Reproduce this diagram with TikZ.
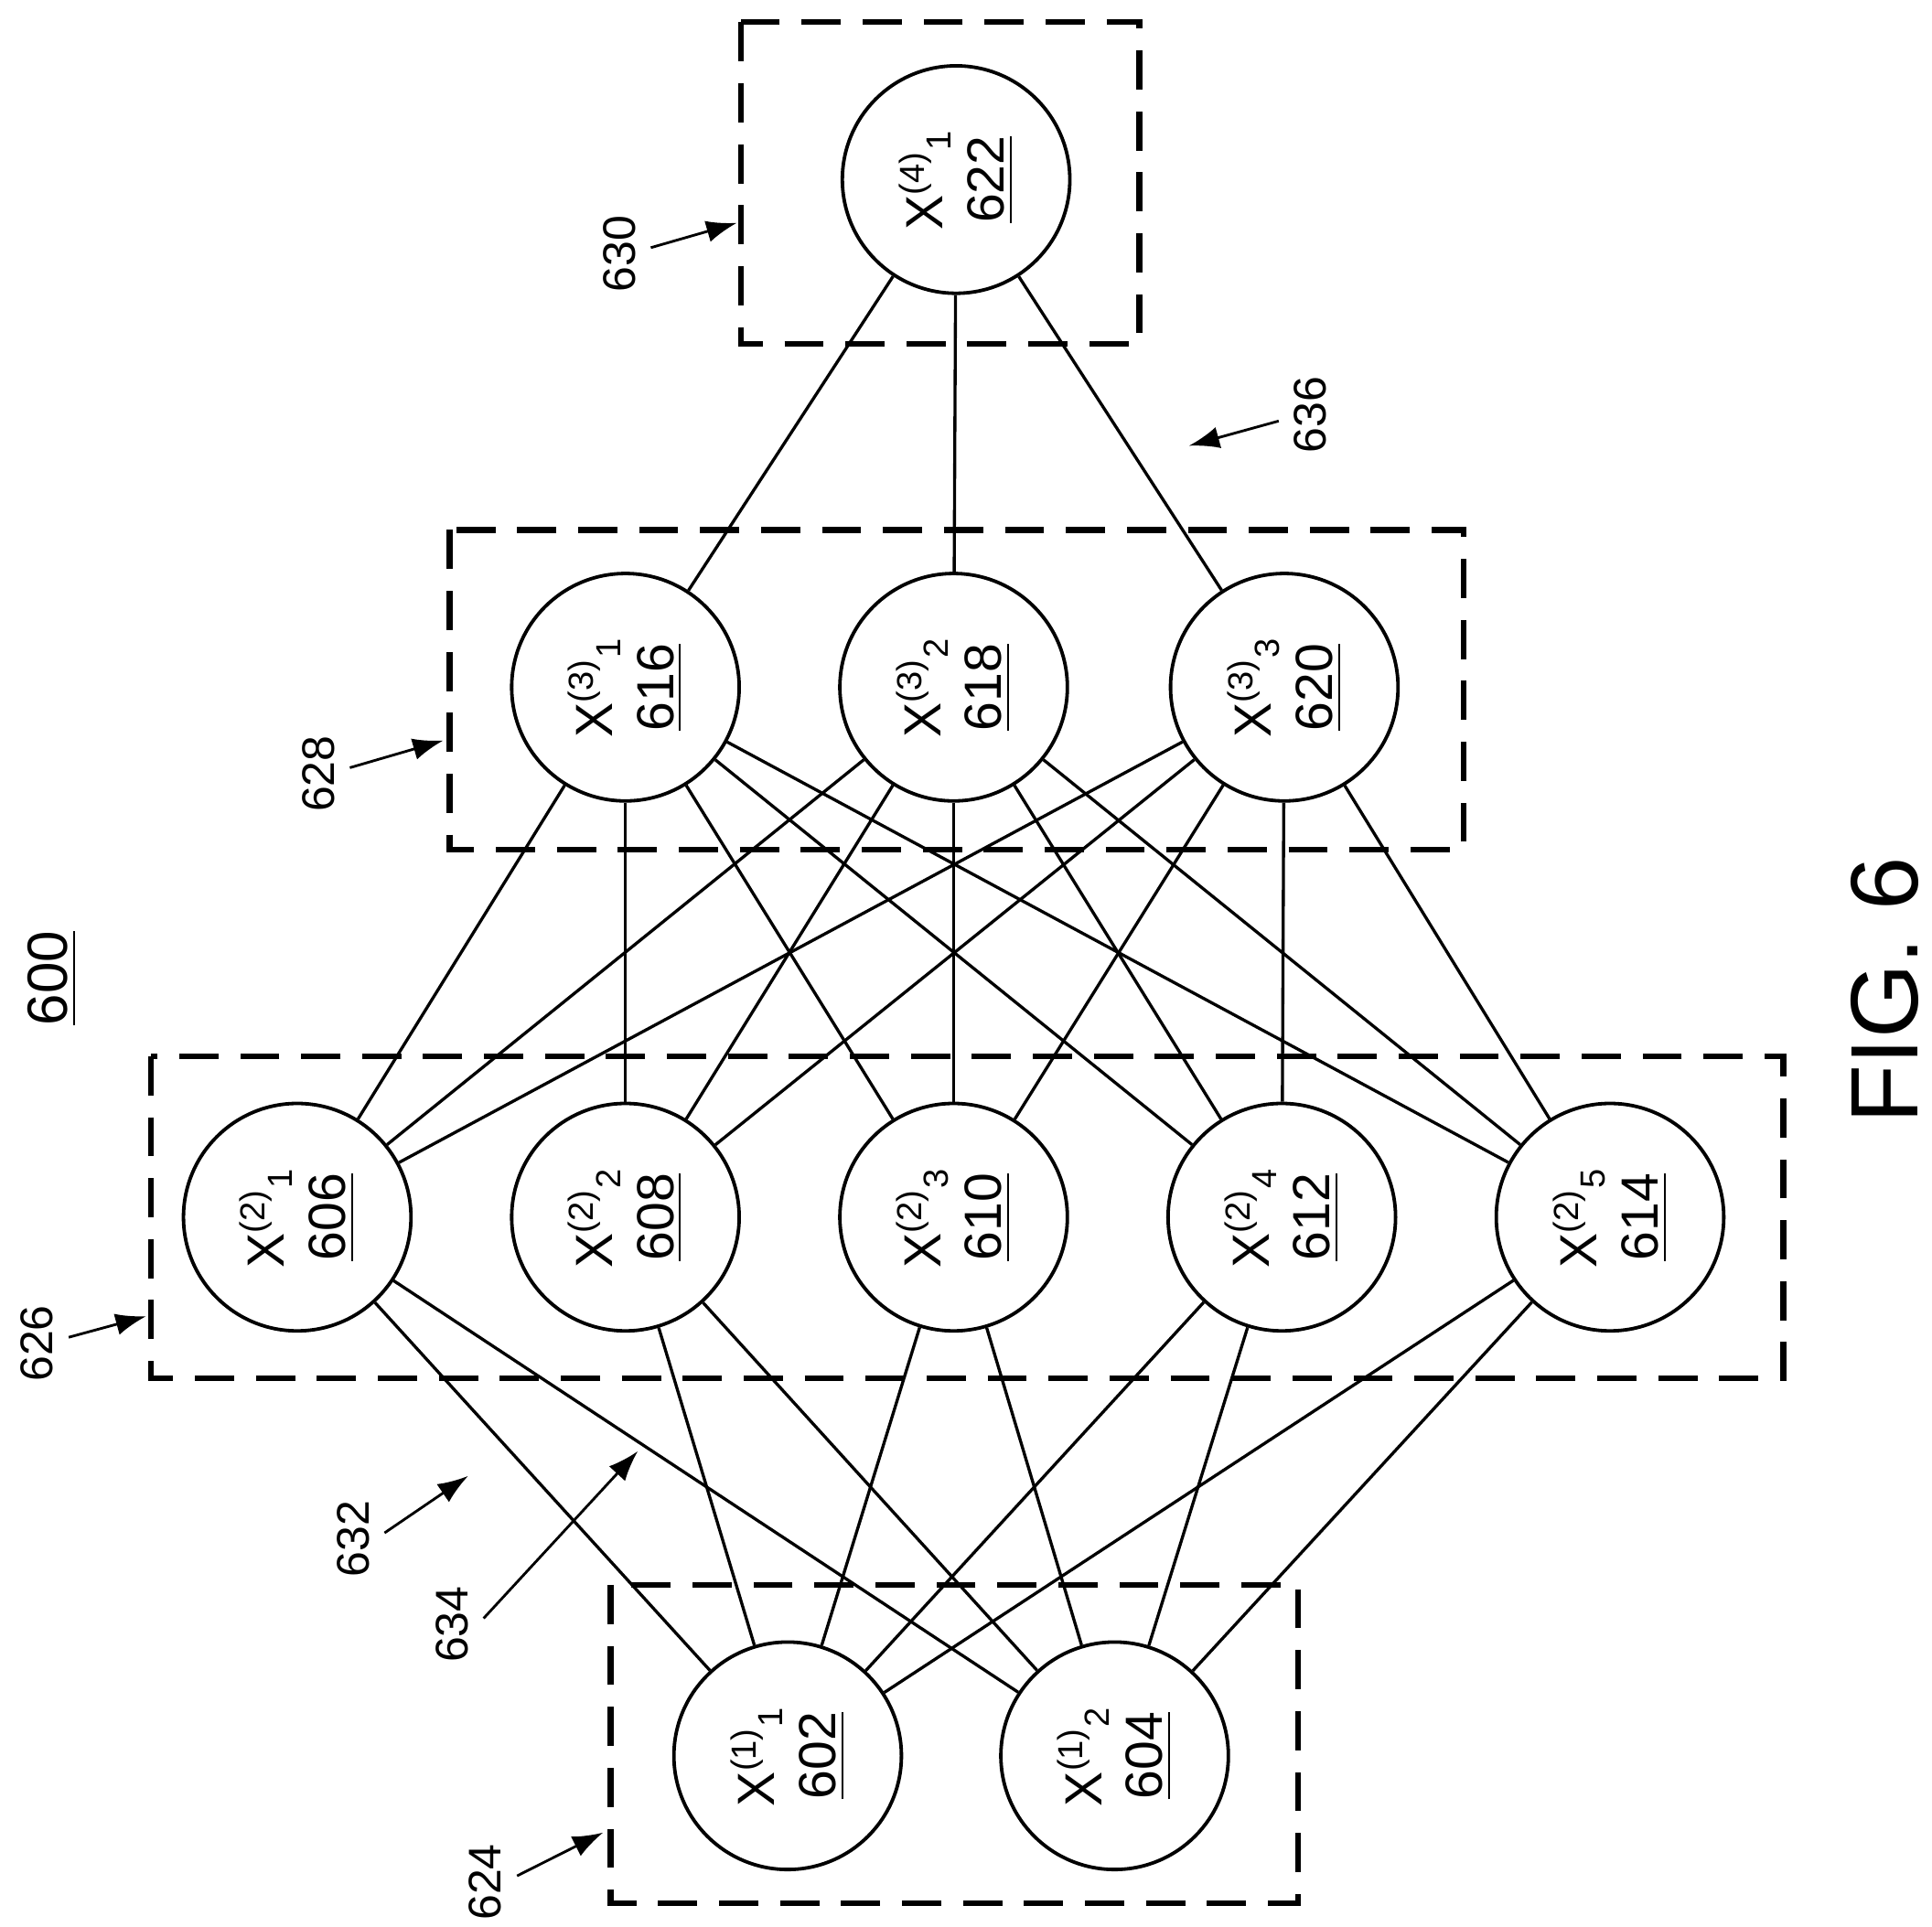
\documentclass[tikz,border=0pt]{standalone}
\usepackage{fontspec}
\setmainfont{Liberation Sans}
\usetikzlibrary{arrows.meta}
\tikzset{
  neuron/.style={draw,circle,line width=0.8pt,minimum size=5.1cm*0.36,inner sep=0pt,rotate=90,align=center,font=\fontsize{12}{14}\selectfont},
  layerbox/.style={draw,line width=1.3pt,dash pattern=on 9pt off 5pt},
  callout/.style={-{Latex[length=7pt,width=5pt]},line width=0.6pt},
  reftext/.style={rotate=90,font=\fontsize{10.5}{12}\selectfont}
}
\begin{document}
\begin{tikzpicture}[x=0.01cm,y=-0.01cm]
\useasboundingbox (0,0) rectangle (1560,1556);

% neurons
\node[neuron] (n602) at (636,1418) {X\textsuperscript{(1)}\textsubscript{1}\\\underline{602}};
\node[neuron] (n604) at (900,1418) {X\textsuperscript{(1)}\textsubscript{2}\\\underline{604}};
\node[neuron] (n606) at (240,983) {X\textsuperscript{(2)}\textsubscript{1}\\\underline{606}};
\node[neuron] (n608) at (505,983) {X\textsuperscript{(2)}\textsubscript{2}\\\underline{608}};
\node[neuron] (n610) at (770,983) {X\textsuperscript{(2)}\textsubscript{3}\\\underline{610}};
\node[neuron] (n612) at (1035,983) {X\textsuperscript{(2)}\textsubscript{4}\\\underline{612}};
\node[neuron] (n614) at (1300,983) {X\textsuperscript{(2)}\textsubscript{5}\\\underline{614}};
\node[neuron] (n616) at (505,555) {X\textsuperscript{(3)}\textsubscript{1}\\\underline{616}};
\node[neuron] (n618) at (770,555) {X\textsuperscript{(3)}\textsubscript{2}\\\underline{618}};
\node[neuron] (n620) at (1037,555) {X\textsuperscript{(3)}\textsubscript{3}\\\underline{620}};
\node[neuron] (n622) at (772,145) {X\textsuperscript{(4)}\textsubscript{1}\\\underline{622}};

% connections
\foreach \a in {602,604}
  \foreach \b in {606,608,610,612,614}
    \draw[line width=0.7pt] (n\a) -- (n\b);
\foreach \a in {606,608,610,612,614}
  \foreach \b in {616,618,620}
    \draw[line width=0.7pt] (n\a) -- (n\b);
\foreach \a in {616,618,620}
  \draw[line width=0.7pt] (n\a) -- (n622);

% layer boxes
\draw[layerbox] (493,1280) rectangle (1048,1537);
\draw[layerbox] (122,853) rectangle (1440,1113);
\draw[layerbox] (363,428) rectangle (1182,686);
\draw[layerbox] (598,18) rectangle (920,278);

% reference numerals
\node[reftext] (r630) at (500,205) {630};
\coordinate (t630) at (595,180);
\draw[callout] (r630.south) ++(0,-5) -- (t630);
\node[reftext] (r636) at (1058,335) {636};
\coordinate (t636) at (960,360);
\draw[callout] (r636.north) ++(0,5) -- (t636);
\node[reftext] (r628) at (257,625) {628};
\coordinate (t628) at (358,598);
\draw[callout] (r628.south) ++(0,-5) -- (t628);
\node[reftext] (r626) at (30,1085) {626};
\coordinate (t626) at (118,1063);
\draw[callout] (r626.south) ++(0,-5) -- (t626);
\node[reftext] (r632) at (285,1243) {632};
\coordinate (t632) at (378,1192);
\draw[callout] (r632.south) ++(0,-5) -- (t632);
\node[reftext] (r634) at (365,1312) {634};
\coordinate (t634) at (515,1172);
\draw[callout] (r634.south) ++(0,-5) -- (t634);
\node[reftext] (r624) at (392,1520) {624};
\coordinate (t624) at (487,1480);
\draw[callout] (r624.south) ++(0,-5) -- (t624);

\node[rotate=90,font=\fontsize{13}{15}\selectfont] (title) at (42,790) {\underline{600}};
\node[rotate=90,font=\fontsize{22}{26}\selectfont] (fig) at (1522,800) {FIG. 6};
\end{tikzpicture}
\end{document}
